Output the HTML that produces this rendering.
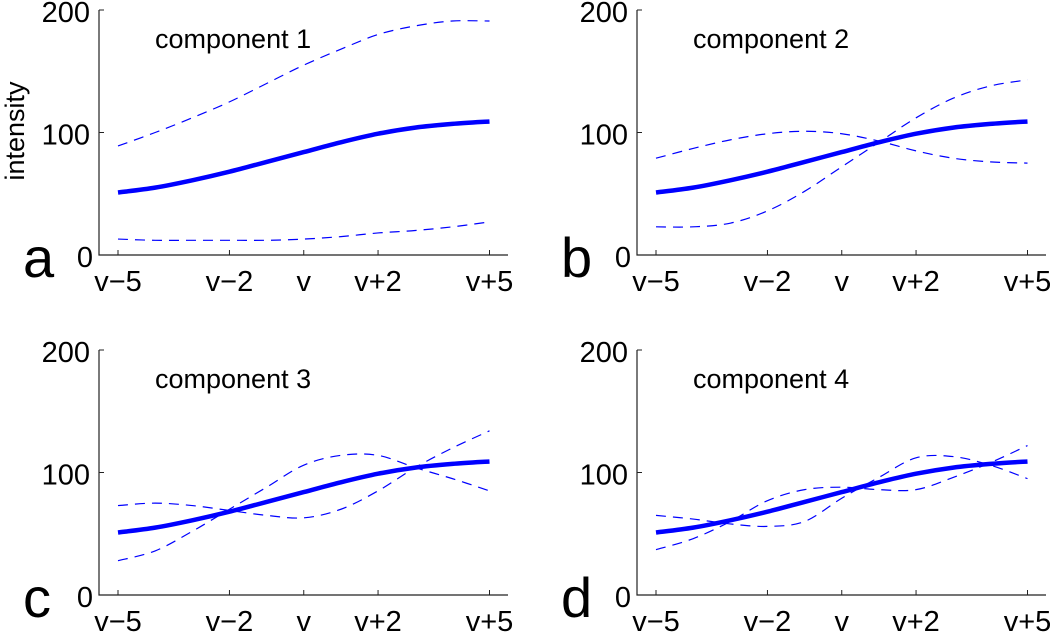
<!DOCTYPE html>
<html><head><meta charset="utf-8"><style>
body{margin:0;background:#fff}
svg text{font-family:"Liberation Sans",sans-serif;fill:#000}
</style></head><body>
<svg id="chart" width="1050" height="632" viewBox="0 0 1050 632" xmlns="http://www.w3.org/2000/svg"></svg>
<script>
const xTicks=[-5,-2,0,2,5];
const xTickLabels=["v\u22125","v\u22122","v","v+2","v+5"];
const yTicks=[0,100,200];
const positions=[-5,-4,-3,-2,-1,0,1,2,3,4,5];
const meanCurve=[51,55,61,68,76,84,92,99,104,107,109];
const compA1=[89,100,112,125,140,155,168,180,187,191,191];
const compA2=[13,12,12,12,12,13,15,18,20,23,27];
const compB1=[79,87,94,99,101,99,93,85,79,76,75];
const compB2=[23,23,26,36,52,72,92,112,128,138,143];
const compC1=[73,75,73,69,65,63,70,85,104,120,134];
const compC2=[28,36,52,70,88,106,114,114,104,95,85];
const compD1=[65,62,58,56,60,79,96,112,113,106,95];
const compD2=[37,46,60,77,86,88,86,86,96,108,122];
const panels=[
 {letter:"a",title:"component 1",ax:99,top:10,d:[compA1,compA2]},
 {letter:"b",title:"component 2",ax:637,top:10,d:[compB1,compB2]},
 {letter:"c",title:"component 3",ax:99,top:350,d:[compC1,compC2]},
 {letter:"d",title:"component 4",ax:637,top:350,d:[compD1,compD2]}
];
const svg=document.getElementById('chart');
const NS="http://www.w3.org/2000/svg";
function mk(t,a,p){const e=document.createElementNS(NS,t);for(const k in a)e.setAttribute(k,a[k]);(p||svg).appendChild(e);return e;}
function smooth(P){let d=`M${P[0][0]},${P[0][1]}`;for(let i=0;i<P.length-1;i++){const p0=P[Math.max(0,i-1)],p1=P[i],p2=P[i+1],p3=P[Math.min(P.length-1,i+2)];
 const c1=[p1[0]+(p2[0]-p0[0])/6,p1[1]+(p2[1]-p0[1])/6],c2=[p2[0]-(p3[0]-p1[0])/6,p2[1]-(p3[1]-p1[1])/6];
 d+=` C${c1[0]},${c1[1]} ${c2[0]},${c2[1]} ${p2[0]},${p2[1]}`;}return d;}
panels.forEach((P,pi)=>{
 const g=mk('g',{});
 
 
 const bottom=P.top+245;
 const x0=P.ax+19, unit=37.15;
 const sx=k=>x0+(k+5)*unit;
 const sy=v=>bottom-v/200*245;
 const axes=mk('path',{d:`M${P.ax} ${P.top}V${bottom}H${P.ax+409}`,stroke:'#222','stroke-width':1.2,fill:'none'},g);
 
 
 yTicks.forEach(v=>{
  mk('line',{x1:P.ax,x2:P.ax+5,y1:sy(v),y2:sy(v),stroke:'#222'},g);
  const t=mk('text',{x:v===0?P.ax-6:P.ax-9,y:sy(v)+12,'text-anchor':'end','font-size':29},g);
  t.textContent=v;
  
  
 });
 xTicks.forEach((k,i)=>{
  mk('line',{x1:sx(k),x2:sx(k),y1:bottom,y2:bottom-5,stroke:'#222'},g);
  const t=mk('text',{x:sx(k),y:bottom+36,'text-anchor':'middle','font-size':29},g);
  t.textContent=xTickLabels[i];
  
  
 });
 const pts=arr=>arr.map((v,i)=>[sx(positions[i]),sy(v)]);
 P.d.forEach((arr,j)=>{
  const l=mk('path',{d:smooth(pts(arr)),fill:'none',stroke:'#0000ff','stroke-width':1.2,'stroke-dasharray':'10 7'},g);
  
  
 });
 const m=mk('path',{d:smooth(pts(meanCurve)),fill:'none',stroke:'#0000ff','stroke-width':4.5,'stroke-linejoin':'round'},g);
 
 
 const tt=mk('text',{x:P.ax+56,y:P.top+38,'font-size':27},g);
 tt.textContent=P.title;
 
 
 const lt=mk('text',{x:P.ax-76,y:bottom+22,'font-size':56},g);
 lt.textContent=P.letter;
 
 
});
const yl=mk('text',{x:0,y:0,'font-size':27,'text-anchor':'middle',transform:'translate(24,131) rotate(-90)'});
yl.textContent='intensity';


</script>
</body></html>
